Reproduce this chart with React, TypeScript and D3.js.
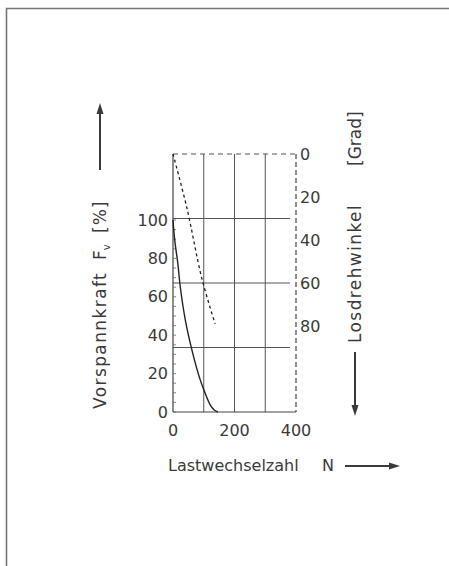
import React from 'react'
import * as d3 from 'd3'

// Vorspannkraft [%] over Lastwechselzahl N (solid)
const forceN = [0, 6, 16, 23, 40, 62, 88, 104, 120, 134, 146]
const forcePct = [100, 89, 77, 66, 48, 32, 17, 10, 4, 1, 0]
// Losdrehwinkel [Grad] over Lastwechselzahl N (dashed)
const angleN = [0, 45, 94, 137]
const angleDeg = [0, 25, 58, 79]

const xTicks = [0, 200, 400]
const xGrid = [100, 200, 300]
const leftTicks = [0, 20, 40, 60, 80, 100]
const rightTicks = [0, 20, 40, 60, 80]
const rightGrid = [30, 60, 90]

const W = 449
const H = 566
const FONT = "'DejaVu Sans', sans-serif"
const INK = '#3a3a3a'

const Arrow = ({ x1, y1, x2, y2 }: { x1: number; y1: number; x2: number; y2: number }) => {
  const a = Math.atan2(y2 - y1, x2 - x1)
  const len = 11
  const w = 3.5
  const bx = x2 - len * Math.cos(a)
  const by = y2 - len * Math.sin(a)
  const px = -Math.sin(a) * w
  const py = Math.cos(a) * w
  return (
    <g>
      <line x1={x1} y1={y1} x2={bx} y2={by} stroke={INK} strokeWidth={2} />
      <path d={`M${x2},${y2}L${bx + px},${by + py}L${bx - px},${by - py}Z`} fill={INK} />
    </g>
  )
}

const App = () => {
  const x = d3.scaleLinear().domain([0, 400]).range([173, 296])
  const yL = d3.scaleLinear().domain([0, 100]).range([412, 220])
  const yR = d3.scaleLinear().domain([0, 120]).range([154, 412])

  const forceLine = d3
    .line<number>()
    .x((_, i) => x(forceN[i]))
    .y((d) => yL(d))
    .curve(d3.curveCatmullRom)
  const angleLine = d3
    .line<number>()
    .x((_, i) => x(angleN[i]))
    .y((d) => yR(d))
    .curve(d3.curveCatmullRom)

  const minorTicks = d3.range(0, 101, 5)

  return (
    <svg width={W} height={H} style={{ position: 'absolute', left: 0, top: 0 }} fontFamily={FONT}>
      <rect width={W} height={H} fill="#fff" />
      {/* frame */}
      <path d={`M6.5,${H}V8.5H${W}`} fill="none" stroke="#777" strokeWidth={1.6} />

      {/* grid */}
      {xGrid.map((v) => (
        <line key={'gx' + v} x1={x(v)} x2={x(v)} y1={yR(0)} y2={yR(120)} stroke="#555" strokeWidth={1} />
      ))}
      {rightGrid.map((v) => (
        <line key={'gy' + v} x1={x(0)} x2={x(400) - 6} y1={yR(v)} y2={yR(v)} stroke="#555" strokeWidth={1} />
      ))}
      {/* top dashed border and right dashed axis */}
      <line x1={x(0)} x2={x(400)} y1={yR(0)} y2={yR(0)} stroke="#555" strokeWidth={1} strokeDasharray="5,4" />
      <line x1={x(400)} x2={x(400)} y1={yR(0)} y2={yR(120)} stroke="#444" strokeWidth={1.2} strokeDasharray="5,3" />
      {/* left and bottom axes */}
      <line x1={x(0)} x2={x(0)} y1={yR(0)} y2={yR(120)} stroke="#444" strokeWidth={1.2} />
      <line x1={x(0)} x2={x(400)} y1={yL(0)} y2={yL(0)} stroke="#444" strokeWidth={1.2} />
      {minorTicks.map((v) => (
        <line key={'mt' + v} x1={x(0)} x2={x(0) + 3} y1={yL(v)} y2={yL(v)} stroke="#666" strokeWidth={0.8} />
      ))}

      {/* curves */}
      <path d={forceLine(forcePct) || ''} fill="none" stroke="#222" strokeWidth={1.4} />
      <path d={angleLine(angleDeg) || ''} fill="none" stroke="#222" strokeWidth={1.3} strokeDasharray="3,3" />

      {/* tick labels */}
      {leftTicks.map((v) => (
        <text key={'lt' + v} x={x(0) - 5} y={yL(v)} dy="0.35em" textAnchor="end" fontSize={16} fill={INK}>
          {v}
        </text>
      ))}
      {rightTicks.map((v) => (
        <text key={'rt' + v} x={x(400) + 4} y={yR(v)} dy="0.35em" textAnchor="start" fontSize={16} fill={INK}>
          {v}
        </text>
      ))}
      {xTicks.map((v) => (
        <text key={'xt' + v} x={x(v)} y={yL(0) + 24} textAnchor="middle" fontSize={16} fill={INK}>
          {v}
        </text>
      ))}

      {/* left title */}
      <g fontSize={17} fill={INK}>
        <text transform="translate(106,409) rotate(-90)" letterSpacing={1.4}>
          Vorspannkraft
        </text>
        <text transform="translate(106,260) rotate(-90)">
          F<tspan fontSize={10} dy={4}>v</tspan>
        </text>
        <text transform="translate(106,233) rotate(-90)" letterSpacing={1}>
          [%]
        </text>
      </g>
      <Arrow x1={100} y1={170} x2={100} y2={103} />

      {/* right title */}
      <g fontSize={17} fill={INK}>
        <text transform="translate(361,343) rotate(-90)" letterSpacing={1.4}>
          Losdrehwinkel
        </text>
        <text transform="translate(361,166) rotate(-90)">[Grad]</text>
      </g>
      <Arrow x1={355} y1={352} x2={355} y2={416} />

      {/* bottom title */}
      <text x={168} y={471} fontSize={16} fill={INK}>
        Lastwechselzahl
      </text>
      <text x={322} y={471} fontSize={16} fill={INK}>
        N
      </text>
      <Arrow x1={345} y1={466} x2={400} y2={466} />
    </svg>
  )
}

export default App
